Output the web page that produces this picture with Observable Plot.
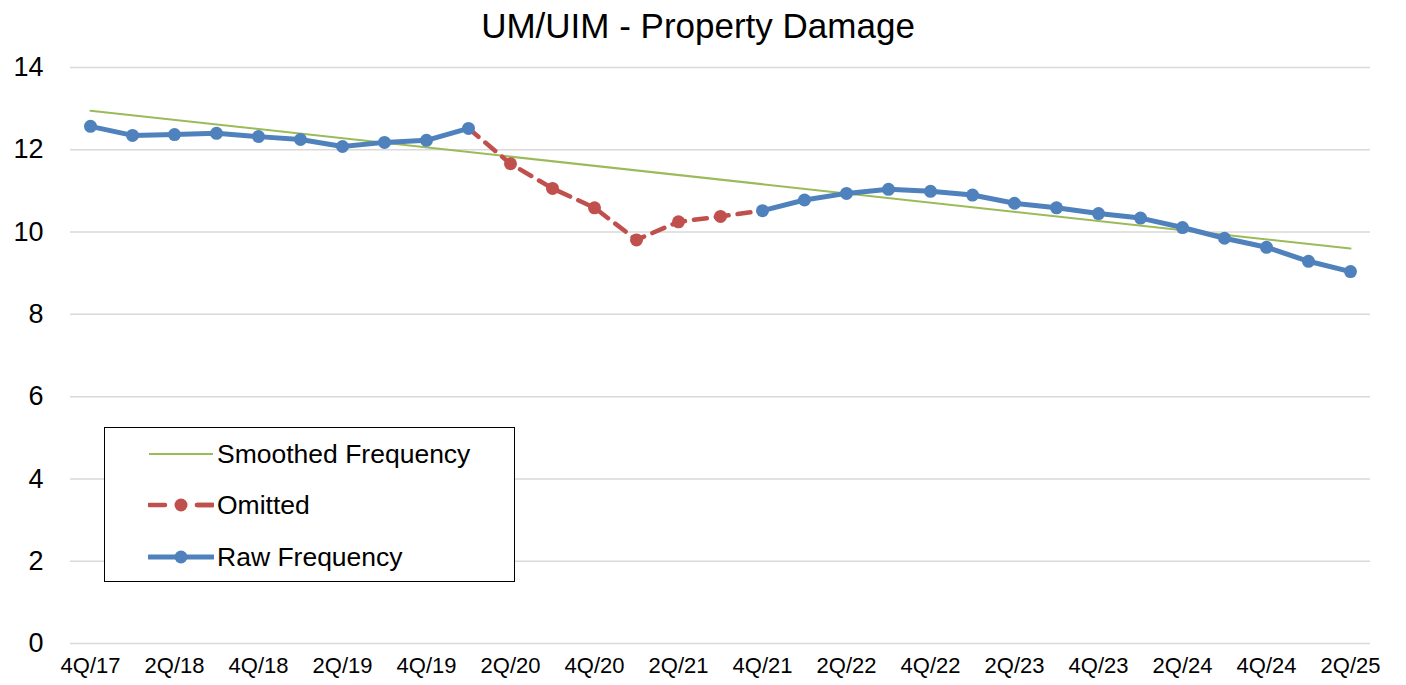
<!DOCTYPE html>
<html>
<head>
<meta charset="utf-8">
<script src="https://cdn.jsdelivr.net/npm/d3@7"></script>
<script src="https://cdn.jsdelivr.net/npm/@observablehq/plot@0.6"></script>
<style>
  html, body { margin: 0; padding: 0; background: #fff; }
  body { width: 1406px; height: 685px; overflow: hidden; font-family: "Liberation Sans", Arial, sans-serif; }
  #title { height: 50px; line-height: 52px; text-align: center; font-size: 35px; color: #000; padding-right: 10px; }
  #wrap { position: relative; width: 1406px; height: 635px; }
  #legend { position: absolute; left: 104px; top: 377px; width: 409px; height: 153px; border: 1.5px solid #000; background: #fff; }
  .row { position: absolute; left: 0; height: 40px; width: 100%; }
  .row svg { position: absolute; left: 43px; top: 10px; }
  .row span { position: absolute; left: 112px; top: 0; line-height: 40px; font-size: 26.5px; color: #000; white-space: nowrap; }
</style>
</head>
<body>
<div id="title">UM/UIM - Property Damage</div>
<div id="wrap"><div id="chart"></div>
  <div id="legend">
    <div class="row" style="top:6px"><svg width="66" height="20"><line x1="1" x2="65" y1="10" y2="10" stroke="#9BBB59" stroke-width="2"/></svg><span>Smoothed Frequency</span></div>
    <div class="row" style="top:57px"><svg width="66" height="20"><line x1="1" x2="65" y1="10" y2="10" stroke="#C0504D" stroke-width="4.5" stroke-dasharray="16,32" stroke-linecap="round"/><line x1="49" x2="65" y1="10" y2="10" stroke="#C0504D" stroke-width="4.5" stroke-linecap="round"/><circle cx="33" cy="10" r="6.5" fill="#C0504D"/></svg><span>Omitted</span></div>
    <div class="row" style="top:109px"><svg width="66" height="20"><line x1="1" x2="65" y1="10" y2="10" stroke="#4F81BD" stroke-width="5" stroke-linecap="round"/><circle cx="33" cy="10" r="6.5" fill="#4F81BD"/></svg><span>Raw Frequency</span></div>
  </div>
</div>
<script>
const quarters = ["4Q/17","1Q/18","2Q/18","3Q/18","4Q/18","1Q/19","2Q/19","3Q/19","4Q/19",
  "1Q/20","2Q/20","3Q/20","4Q/20","1Q/21","2Q/21","3Q/21","4Q/21",
  "1Q/22","2Q/22","3Q/22","4Q/22","1Q/23","2Q/23","3Q/23","4Q/23",
  "1Q/24","2Q/24","3Q/24","4Q/24","1Q/25","2Q/25"];
const frequency = [12.57, 12.35, 12.37, 12.40, 12.32, 12.25, 12.08, 12.18, 12.23,
  12.52, 11.66, 11.06, 10.59, 9.81, 10.25, 10.38, 10.52,
  10.78, 10.94, 11.04, 10.99, 10.90, 10.70, 10.59, 10.45,
  10.34, 10.11, 9.85, 9.63, 9.29, 9.04];
const omittedQuarters = ["2Q/20","3Q/20","4Q/20","1Q/21","2Q/21","3Q/21"];
const omittedSpan = ["1Q/20","2Q/20","3Q/20","4Q/20","1Q/21","2Q/21","3Q/21","4Q/21"];
const smoothedQuarters = ["4Q/17","2Q/25"];
const smoothedValues = [12.95, 9.60];
const yTicks = [0, 2, 4, 6, 8, 10, 12, 14];
const xTickLabels = quarters.filter((d, i) => i % 2 === 0);

const rows = quarters.map((q, i) => ({q, v: frequency[i], omitted: omittedQuarters.includes(q)}));
const rawLine = rows.map(d => ({q: d.q, v: d.omitted ? NaN : d.v}));
const omittedLine = rows.filter(d => omittedSpan.includes(d.q));
const smoothed = smoothedQuarters.map((q, i) => ({q, v: smoothedValues[i]}));

const blue = "#4F81BD", red = "#C0504D", green = "#9BBB59";

const chart = Plot.plot({
  width: 1406, height: 635,
  marginLeft: 70, marginRight: 36, marginTop: 17, marginBottom: 42,
  style: {fontFamily: '"Liberation Sans", Arial, sans-serif', background: "#fff", color: "#000"},
  x: {type: "point", domain: quarters, padding: 0.476, label: null},
  y: {domain: [0, 14], label: null},
  marks: [
    Plot.ruleY(yTicks, {stroke: "#d9d9d9", strokeWidth: 1.5}),
    Plot.axisY({ticks: yTicks, tickSize: 0, tickPadding: 27, fontSize: 27, label: null}),
    Plot.axisX({ticks: xTickLabels, tickSize: 0, tickPadding: 14, fontSize: 22, label: null}),
    Plot.line(smoothed, {x: "q", y: "v", stroke: green, strokeWidth: 2}),
    Plot.line(omittedLine, {x: "q", y: "v", stroke: red, strokeWidth: 4.5, strokeDasharray: "13,9", strokeLinecap: "round"}),
    Plot.dot(rows.filter(d => d.omitted), {x: "q", y: "v", r: 6.5, fill: red, stroke: "none"}),
    Plot.line(rawLine, {x: "q", y: "v", stroke: blue, strokeWidth: 5, strokeLinejoin: "round"}),
    Plot.dot(rows.filter(d => !d.omitted), {x: "q", y: "v", r: 6.5, fill: blue, stroke: "none"})
  ]
});
document.getElementById("chart").appendChild(chart);
</script>
</body>
</html>
